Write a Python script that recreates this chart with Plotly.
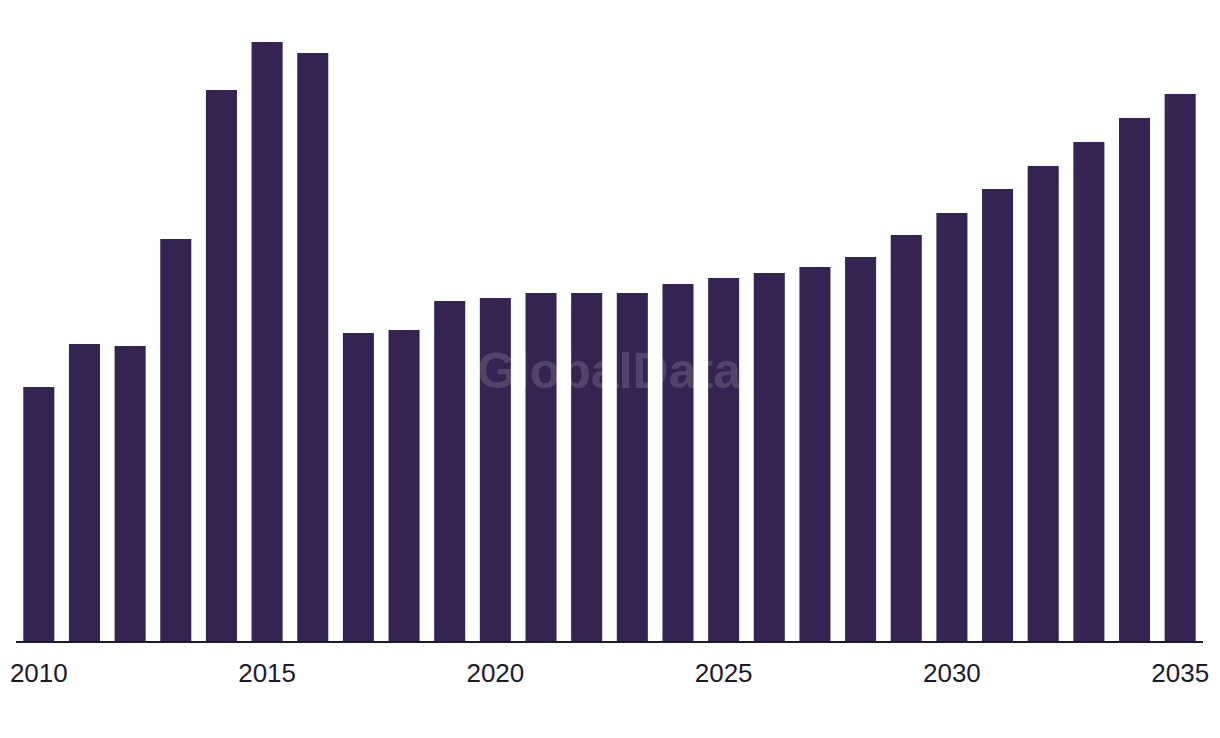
import plotly.graph_objects as go

# --- Data ---
years = list(range(2010, 2036))
values = [254, 297, 295, 402, 551, 599, 588, 308, 311, 340, 343, 348, 348,
          348, 357, 363, 368, 374, 384, 406, 428, 452, 475, 499, 523, 547]
tick_years = [2010, 2015, 2020, 2025, 2030, 2035]

BAR_COLOR = '#352352'
TEXT_COLOR = '#1c1b2b'

fig = go.Figure(
    go.Bar(
        x=years,
        y=values,
        marker=dict(color=BAR_COLOR, line=dict(width=0)),
        width=0.68,
        hoverinfo='x+y',
    )
)

# page body has an 8px margin, so the figure is sized/offset to compensate
fig.update_layout(
    width=1212,
    height=730,
    margin=dict(l=8, r=17, t=33, b=97),
    paper_bgcolor='white',
    plot_bgcolor='white',
    showlegend=False,
    font=dict(family='Liberation Sans, Arial, sans-serif', color=TEXT_COLOR),
    xaxis=dict(
        range=[2009.5, 2035.5],
        tickvals=tick_years,
        ticktext=[str(y) for y in tick_years],
        tickfont=dict(size=26, color=TEXT_COLOR),
        showgrid=False,
        zeroline=False,
        showline=True,
        linecolor=TEXT_COLOR,
        linewidth=2,
        ticks='outside',
        ticklen=8,
        tickcolor='rgba(0,0,0,0)',
        automargin=False,
    ),
    yaxis=dict(
        range=[0, 600],
        visible=False,
        showgrid=False,
        zeroline=False,
    ),
)

# watermark
fig.add_annotation(
    text='<b>GlobalData</b>',
    x=0.5, y=0.45, xref='paper', yref='paper',
    showarrow=False,
    font=dict(size=50, color='rgba(255,255,255,0.15)', family='Liberation Sans, Arial, sans-serif'),
)

fig.write_html('out.html')
